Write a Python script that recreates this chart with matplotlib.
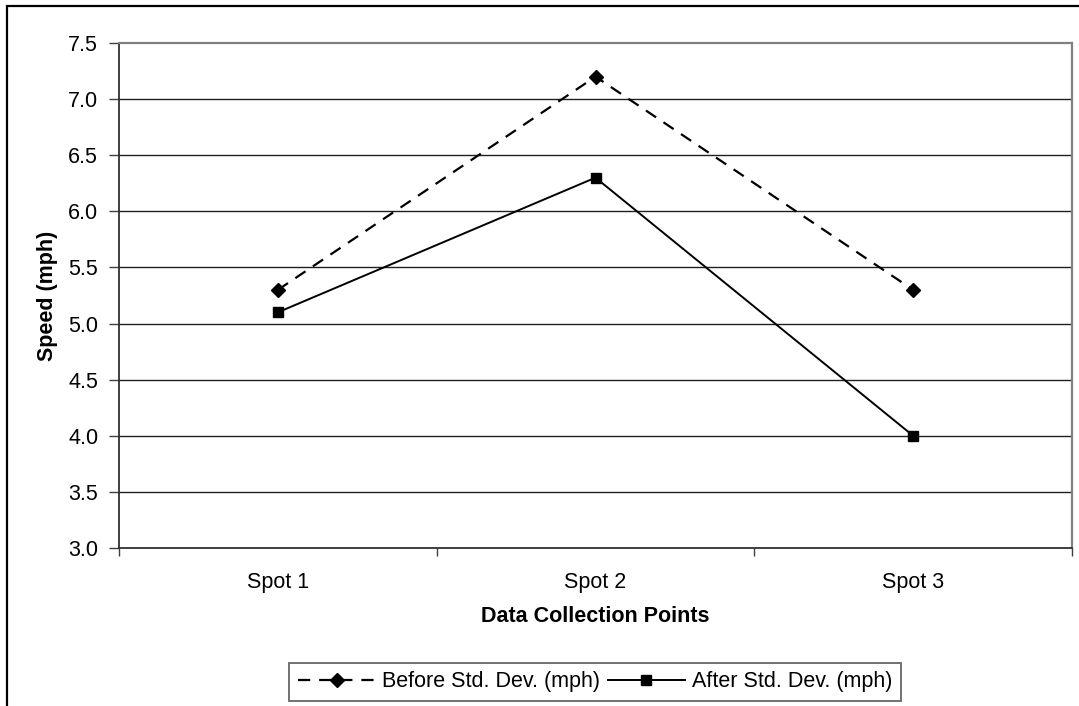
import matplotlib
matplotlib.use("Agg")
import matplotlib.pyplot as plt
from matplotlib.patches import Rectangle

categories = ["Spot 1", "Spot 2", "Spot 3"]
before = [5.3, 7.2, 5.3]
after = [5.1, 6.3, 4.0]
yticks = [3.0, 3.5, 4.0, 4.5, 5.0, 5.5, 6.0, 6.5, 7.0, 7.5]
series_names = ["Before Std. Dev. (mph)", "After Std. Dev. (mph)"]

W, H = 1079, 706
FS = 15.5
plt.rcParams['font.family'] = ['Liberation Sans', 'DejaVu Sans']
fig = plt.figure(figsize=(W / 100, H / 100), dpi=100)

# Plot area in pixels
L, R, T, B = 119, 1072, 43, 548
ax = fig.add_axes([L / W, 1 - B / H, (R - L) / W, (B - T) / H])

x = list(range(len(categories)))
ax.plot(x, before, color='black', lw=1.6, dashes=(5.5, 4), marker='D', ms=7.5,
        markerfacecolor='black', markeredgecolor='black', label=series_names[0], zorder=3)
ax.plot(x, after, color='black', lw=1.4, marker='s', ms=7.5,
        markerfacecolor='black', markeredgecolor='black', label=series_names[1], zorder=3)

ax.set_xlim(-0.5, 2.5)
ax.set_ylim(3.0, 7.5)
ax.set_yticks(yticks)
ax.set_yticklabels([f"{v:.1f}" for v in yticks], fontsize=FS)
ax.set_xticks(x)
ax.set_xticklabels(categories, fontsize=FS)
ax.set_xticks([-0.5, 0.5, 1.5, 2.5], minor=True)
ax.tick_params(axis='x', which='major', length=0, pad=17)
ax.tick_params(axis='x', which='minor', length=6, width=1, color='#404040', direction='out')
ax.tick_params(axis='y', length=7, width=1, color='#404040', direction='out', pad=8)

for v in yticks[1:-1]:
    ax.axhline(v, color='#202020', lw=1, zorder=1)

for s in ['left', 'bottom']:
    ax.spines[s].set_color('#303030')
    ax.spines[s].set_linewidth(1.3)
for s in ['top', 'right']:
    ax.spines[s].set_color('#808080')
    ax.spines[s].set_linewidth(1.6)

ax.set_ylabel("Speed (mph)", fontsize=FS, fontweight='bold', labelpad=7)
ax.set_xlabel("Data Collection Points", fontsize=FS, fontweight='bold', labelpad=10)

leg = fig.legend(loc='center', bbox_to_anchor=(595 / W, 1 - 682 / H), ncol=2,
                 frameon=True, fancybox=False, fontsize=FS, handlelength=3.6,
                 columnspacing=0.35, handletextpad=0.3, borderpad=0.4, borderaxespad=0)
leg.get_frame().set_edgecolor('#404040')
leg.get_frame().set_linewidth(1.3)

# Outer chart border (left and top visible)
fig.patches.append(Rectangle((7 / W, -0.1), 1.2, 1 - 6 / H + 0.1, transform=fig.transFigure,
                             fill=False, edgecolor='black', lw=1.6))

fig.savefig("out.png", dpi=100)
